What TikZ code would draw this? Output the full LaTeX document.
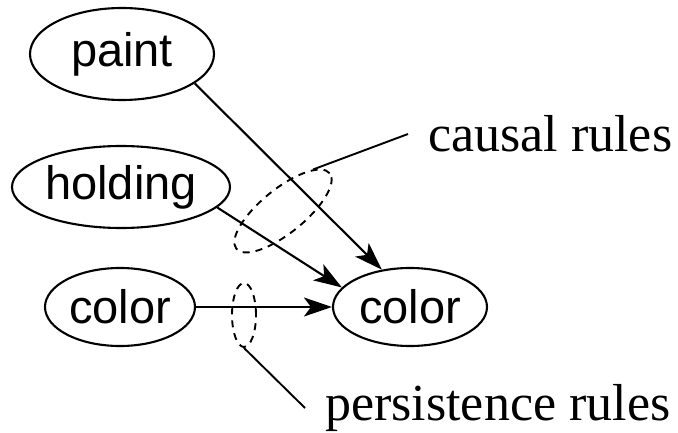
\documentclass[tikz,border=0pt]{standalone}
\usepackage{fontspec}
\setmainfont{Liberation Serif}
\newfontfamily\fluentfont{Liberation Sans}
\usepackage{tikz}
\usetikzlibrary{shapes.geometric}
\usetikzlibrary{arrows.meta}

\begin{document}
\begin{tikzpicture}[
  x = 1pt, y = -1pt,
  fluent/.style = {draw, ellipse, line width = 2.1pt, inner sep = 0pt,
    font = \fluentfont\fontsize{47}{50}\selectfont},
  rule/.style = {-{Stealth[length = 28pt, width = 19pt, inset = 7pt]}, line width = 2.1pt},
  group/.style = {draw, ellipse, dash pattern = on 7pt off 6pt,
    line width = 1.9pt, inner sep = 0pt},
  caption/.style = {anchor = west, inner xsep = 20pt, inner ysep = 0pt,
    font = \fontsize{52}{56}\selectfont}
]
\useasboundingbox (0,0) rectangle (678,433);

% fluents
\node[fluent, minimum width = 184pt, minimum height = 92pt] (paint) at (122,54) {paint};
\node[fluent, minimum width = 218pt, minimum height = 82pt] (holding) at (121,187) {holding};
\node[fluent, minimum width = 150pt, minimum height = 78pt] (oldcolor) at (120,307) {color};
\node[fluent, minimum width = 154pt, minimum height = 78pt] (newcolor) at (410,307) {color};

% rules
\draw[rule] (paint.-22) -- (newcolor.127);
\draw[rule] (holding.-12) -- (newcolor.164);
\draw[rule] (oldcolor.east) -- (newcolor.west);

% groups of rules
\node[group, minimum width = 120pt, minimum height = 44pt, rotate = 39] (causal) at (283,211) {};
\node[group, minimum width = 24pt, minimum height = 64pt] (persist) at (244,315) {};

\node[caption] (causaltext) at (408,134) {causal rules};
\node[caption] (persisttext) at (305,408) {persistence rules};

\draw[line width = 1.9pt] (causal.15) -- (causaltext.west);
\draw[line width = 1.9pt] (persist.south) -- (persisttext.west);
\end{tikzpicture}
\end{document}
